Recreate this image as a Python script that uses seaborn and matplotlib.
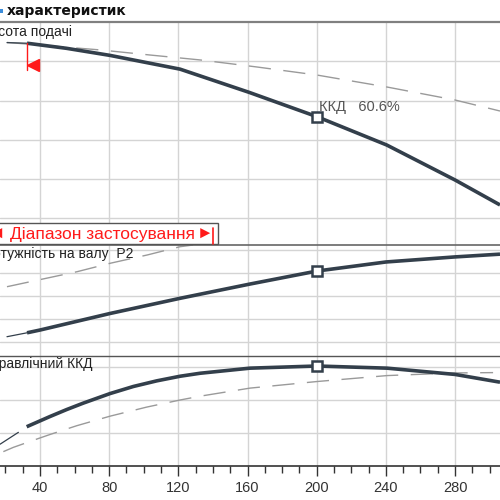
import numpy as np
import matplotlib
matplotlib.use("Agg")
import matplotlib.pyplot as plt
from matplotlib.patches import Rectangle
from matplotlib.lines import Line2D
import seaborn as sns

sns.set_style("white")
plt.rcParams['font.family'] = ['Liberation Sans', 'DejaVu Sans']

# flow Q
q_h_thin = [20.9, 32.5]
h_thin = [12.95, 12.92]
q_h = [32.5, 55.4, 80.5, 121.0, 160.9, 200.2, 240.5, 280.0, 306.0]
h_solid = [12.92, 12.66, 12.30, 11.60, 10.42, 9.18, 7.74, 5.96, 4.69]
q_h_dash = [20.9, 74.7, 103.6, 132.5, 165.5, 200.2, 240.7, 280.0, 306.0]
h_dash = [12.96, 12.58, 12.32, 12.07, 11.71, 11.30, 10.69, 10.03, 9.47]

q_p_thin = [20.9, 32.5]
p_thin = [1.115, 1.20]
q_p = [32.5, 40.0, 80.5, 121.0, 161.4, 200.2, 240.1, 280.0, 306.0]
p_solid = [1.20, 1.26, 1.62, 1.95, 2.26, 2.543, 2.74, 2.85, 2.91]
q_p_dash = [20.9, 41.7, 61.4, 80.5, 101.9, 121.0, 128.5]
p_dash = [2.202, 2.37, 2.528, 2.711, 2.891, 3.072, 3.109]

q_e_thin = [16.9, 27.5]
e_thin = [13.2, 20.4]
q_e = [32.3, 45.8, 55.4, 65.0, 80.5, 94.0, 107.5, 121.0, 132.5, 161.4, 200.2, 240.7, 280.0, 306.0]
e_solid = [23.8, 30.0, 34.2, 38.1, 43.9, 48.2, 51.6, 54.4, 56.2, 59.3, 60.6, 59.3, 55.5, 50.8]
q_e_dash = [18.8, 24.6, 40.0, 45.8, 61.2, 80.5, 101.7, 121.0, 132.5, 161.4, 200.2, 240.7, 280.0, 302.0]
e_dash = [8.7, 11.3, 17.0, 19.1, 24.4, 30.2, 35.7, 40.0, 42.3, 47.2, 51.2, 54.8, 56.4, 56.6]

q_duty = 200
h_duty = 9.18
p_duty = 2.543
e_duty = 60.6
q_range_start = 32.5

x_ticks = [40, 80, 120, 160, 200, 240, 280]

DARK = '#333f4b'
GRID = '#d4d4d4'
DASH = '#9a9a9a'
RED = '#ff1a1a'

fig = plt.figure(figsize=(5, 5), dpi=100)
ax1 = fig.add_axes([0, 0.51, 1, 0.446])
ax2 = fig.add_axes([0, 0.2886, 1, 0.2214])
ax3 = fig.add_axes([0, 0.068, 1, 0.2206])

ylims = [(2.651, 14.0), (0.702, 3.109), (0.0, 66.85)]
yticks = [[4, 6, 8, 10, 12], [1.0, 1.5, 2.0, 2.5, 3.0], [20, 40, 60]]
for ax, yl, yt in zip([ax1, ax2, ax3], ylims, yticks):
    ax.set_xlim(16.87, 306.0)
    ax.set_ylim(*yl)
    ax.set_xticks(x_ticks)
    ax.set_yticks(yt)
    ax.grid(True, color=GRID, lw=1.0)
    ax.set_axisbelow(True)
    for s in ['left', 'right', 'bottom']:
        ax.spines[s].set_visible(False)
    ax.tick_params(axis='y', left=False, labelleft=False)
    ax.tick_params(axis='x', bottom=False, labelbottom=False)
    ax.patch.set_alpha(0)

ax1.spines['top'].set_color('#808080')
ax1.spines['top'].set_linewidth(1.6)
ax2.spines['top'].set_color('#666666')
ax2.spines['top'].set_linewidth(1.2)
ax3.spines['top'].set_color('#555555')
ax3.spines['top'].set_linewidth(1.0)

ax3.spines['bottom'].set_visible(True)
ax3.spines['bottom'].set_color('#333333')
ax3.spines['bottom'].set_linewidth(1.2)
ax3.set_xticks(np.arange(20, 310, 10), minor=True)
ax3.tick_params(axis='x', which='major', bottom=True, labelbottom=True, direction='out',
                length=7, width=1.0, color='#333333', labelsize=10.5, labelcolor='#333333', pad=4)
ax3.tick_params(axis='x', which='minor', bottom=True, direction='out',
                length=5, width=1.0, color='#333333')

dash_style = (0, (16, 9))
curves = [
    (ax1, q_h_thin, h_thin, q_h, h_solid, q_h_dash, h_dash, h_duty),
    (ax2, q_p_thin, p_thin, q_p, p_solid, q_p_dash, p_dash, p_duty),
    (ax3, q_e_thin, e_thin, q_e, e_solid, q_e_dash, e_dash, e_duty),
]
for ax, qt, yt_, qs, ys, qd, yd, yduty in curves:
    sns.lineplot(x=qd, y=yd, ax=ax, color=DASH, lw=1.0, linestyle=dash_style, sort=False, estimator=None)
    sns.lineplot(x=qt, y=yt_, ax=ax, color=DARK, lw=0.9, sort=False, estimator=None)
    sns.lineplot(x=qs, y=ys, ax=ax, color=DARK, lw=2.6, sort=False, estimator=None,
                 solid_capstyle='butt', solid_joinstyle='round')
    ax.plot([q_duty], [yduty], marker='s', ms=6.5, mfc='white', mec=DARK, mew=1.8,
            ls='none', zorder=5)
    ax.set_xlabel('')
    ax.set_ylabel('')

# range start marker
ax1.plot([q_range_start, q_range_start], [12.93, 11.55], color=RED, lw=1.0)
ax1.plot([q_range_start + 3.3], [11.81], marker='<', color=RED, ms=8, ls='none')

# curve labels (cut by the left edge as in the source)
ax1.text(58.5, 13.49, 'Висота подачі', ha='right', va='center', fontsize=10, color='#222222')
ax2.text(93.8, 2.913, 'Потужність на валу  P2', ha='right', va='center', fontsize=10, color='#222222')
ax3.text(70.6, 61.8, 'Гідравлічний ККД', ha='right', va='center', fontsize=10, color='#222222')
ax1.text(201.3, 9.67, 'ККД   60.6%', ha='left', va='center', fontsize=10.5, color='#555555')

# title
fig.text(7 / 500, 1 - 11 / 500, 'характеристик', ha='left', va='center', fontsize=10,
         fontweight='bold', family='DejaVu Sans', color='#111111')
fig.add_artist(Rectangle((0, 1 - 13 / 500), 2.5 / 500, 4 / 500, transform=fig.transFigure,
                         color='#3b8ddb', lw=0))

# application range box
fig.add_artist(Rectangle((-0.01, 1 - 244 / 500), 0.01 + 218 / 500, 21 / 500,
                         transform=fig.transFigure, facecolor='white', edgecolor='#555555',
                         lw=1.0, zorder=6))
yb = 1 - 234 / 500
fig.text(5 / 500, yb, '◄', ha='right', va='center', fontsize=12, color=RED, zorder=7)
fig.text(10 / 500, yb, 'Діапазон застосування', ha='left', va='center', fontsize=12.5,
         color=RED, zorder=7)
fig.text(197 / 500, yb, '►', ha='left', va='center', fontsize=12, color=RED, zorder=7)
fig.add_artist(Line2D([213 / 500, 213 / 500], [1 - 244 / 500, 1 - 228 / 500],
                      transform=fig.transFigure, color=RED, lw=1.2, zorder=7))

fig.savefig('out.png', dpi=100)
